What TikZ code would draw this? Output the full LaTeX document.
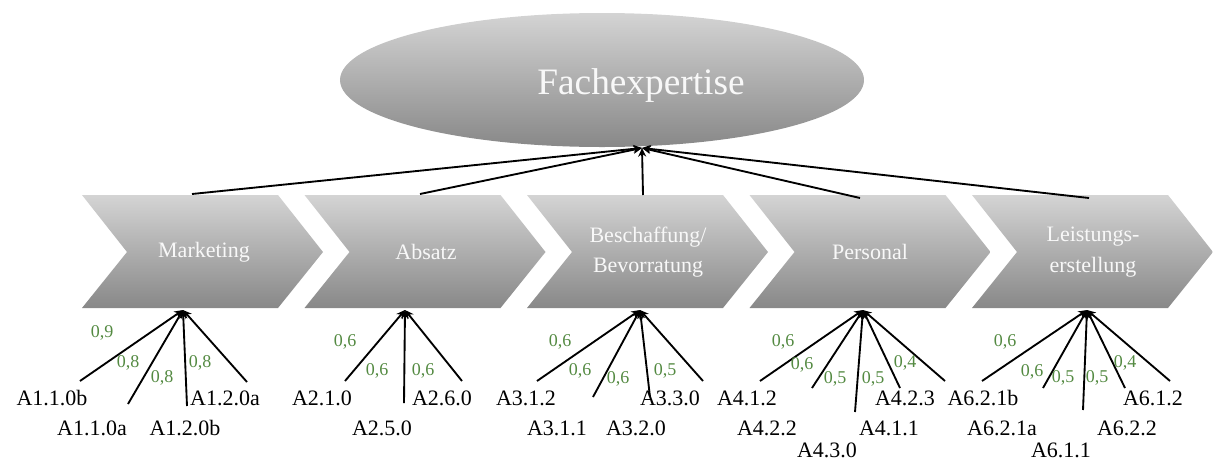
\documentclass[tikz,border=0pt]{standalone}
\usepackage{fontspec}
\setmainfont{Liberation Serif}
\usetikzlibrary{arrows.meta,shapes.geometric}
\definecolor{shtop}{RGB}{212,212,212}
\definecolor{shbot}{RGB}{136,136,136}
\definecolor{wgreen}{RGB}{84,138,66}
\definecolor{ltext}{RGB}{248,248,248}
\begin{document}
\begin{tikzpicture}[x=0.75pt,y=-0.75pt,
  chev/.style={top color=shtop,bottom color=shbot,draw=none},
  chevtext/.style={text=ltext,font=\fontsize{16.5}{23}\selectfont,align=center,inner sep=0pt},
  lab/.style={font=\fontsize{16.5}{18}\selectfont,inner sep=0pt},
  wt/.style={text=wgreen,font=\fontsize{13.5}{15}\selectfont,inner sep=0pt},
  con/.style={line width=1.4pt,-{Stealth[length=6.5pt,width=6pt]}}]
\useasboundingbox (0,0) rectangle (1213,461);
% ellipse
\node[ellipse,minimum width=393pt,minimum height=100.5pt,top color=shtop,bottom color=shbot,draw=none,inner sep=0pt] (fach) at (602,80) {};
\node[text=ltext,font=\fontsize{28}{30}\selectfont,inner sep=0pt] (fachtext) at (641,86) {Fachexpertise};
\coordinate (ftip) at (642,148);
% chevrons
\foreach \i/\L in {1/82,2/304.5,3/527,4/749.5,5/972}{
  \path[chev] (\L,195) -- ++(196,0) -- ++(45,57) -- ++(-45,56) -- ++(-196,0) -- ++(45,-56) -- cycle;
}
\node[chevtext] (c1) at (204,252) {Marketing};
\node[chevtext] (c2) at (426,252) {Absatz};
\node[chevtext] (c3) at (648,252) {Beschaffung/\\Bevorratung};
\node[chevtext] (c4) at (870,252) {Personal};
\node[chevtext] (c5) at (1093,252) {Leistungs-\\erstellung};
% top connectors
\coordinate (t1) at (192,194);
\coordinate (t2) at (420,194);
\coordinate (t3) at (643,195);
\coordinate (t4) at (860,198);
\coordinate (t5) at (1089,198);
\foreach \i in {1,...,5}{\draw[con] (t\i) -- (ftip);}
% bottom tips
\coordinate (b1) at (183,310);
\coordinate (b2) at (405,310);
\coordinate (b3) at (640,310);
\coordinate (b4) at (863,310);
\coordinate (b5) at (1087,310);
% group 1
\foreach \n/\x/\y in {11/80/381,12/128/404,13/187/406,14/247/382}{\coordinate (e\n) at (\x,\y); \draw[con] (e\n) -- (b1);}
\node[lab] (l11) at (52,398) {A1.1.0b};
\node[lab] (l12) at (92,428) {A1.1.0a};
\node[lab] (l13) at (185,428) {A1.2.0b};
\node[lab] (l14) at (225,398) {A1.2.0a};
\node[wt] (w11) at (102,333) {0,9};
\node[wt] (w12) at (128,363) {0,8};
\node[wt] (w13) at (162,378) {0,8};
\node[wt] (w14) at (200,363) {0,8};
% group 2
\foreach \n/\x/\y in {21/345/381,22/404/403,23/462/381}{\coordinate (e\n) at (\x,\y); \draw[con] (e\n) -- (b2);}
\node[lab] (l21) at (322,398) {A2.1.0};
\node[lab] (l22) at (382,428) {A2.5.0};
\node[lab] (l23) at (442,398) {A2.6.0};
\node[wt] (w21) at (345,342) {0,6};
\node[wt] (w22) at (377,371) {0,6};
\node[wt] (w23) at (423,371) {0,6};
% group 3
\foreach \n/\x/\y in {31/537/381,32/593/397,33/650/397,34/703/381}{\coordinate (e\n) at (\x,\y); \draw[con] (e\n) -- (b3);}
\node[lab] (l31) at (526,398) {A3.1.2};
\node[lab] (l32) at (557,428) {A3.1.1};
\node[lab] (l33) at (636,428) {A3.2.0};
\node[lab] (l34) at (670,398) {A3.3.0};
\node[wt] (w31) at (560,342) {0,6};
\node[wt] (w32) at (580,371) {0,6};
\node[wt] (w33) at (618,379) {0,6};
\node[wt] (w34) at (665,371) {0,5};
% group 4
\foreach \n/\x/\y in {41/760/381,42/812/388,43/855/412,44/900/388,45/945/381}{\coordinate (e\n) at (\x,\y); \draw[con] (e\n) -- (b4);}
\node[lab] (l41) at (747,398) {A4.1.2};
\node[lab] (l42) at (767,428) {A4.2.2};
\node[lab] (l43) at (827,450) {A4.3.0};
\node[lab] (l44) at (889,428) {A4.1.1};
\node[lab] (l45) at (905,398) {A4.2.3};
\node[wt] (w41) at (783,342) {0,6};
\node[wt] (w42) at (802,365) {0,6};
\node[wt] (w43) at (835,379) {0,5};
\node[wt] (w44) at (873,379) {0,5};
\node[wt] (w45) at (905,363) {0,4};
% group 5
\foreach \n/\x/\y in {51/982/381,52/1043/388,53/1083/410,54/1125/388,55/1170/381}{\coordinate (e\n) at (\x,\y); \draw[con] (e\n) -- (b5);}
\node[lab] (l51) at (983,398) {A6.2.1b};
\node[lab] (l52) at (1002,428) {A6.2.1a};
\node[lab] (l53) at (1061,450) {A6.1.1};
\node[lab] (l54) at (1127,428) {A6.2.2};
\node[lab] (l55) at (1153,398) {A6.1.2};
\node[wt] (w51) at (1005,342) {0,6};
\node[wt] (w52) at (1032,372) {0,6};
\node[wt] (w53) at (1063,378) {0,5};
\node[wt] (w54) at (1097,378) {0,5};
\node[wt] (w55) at (1125,363) {0,4};
\end{tikzpicture}
\end{document}
